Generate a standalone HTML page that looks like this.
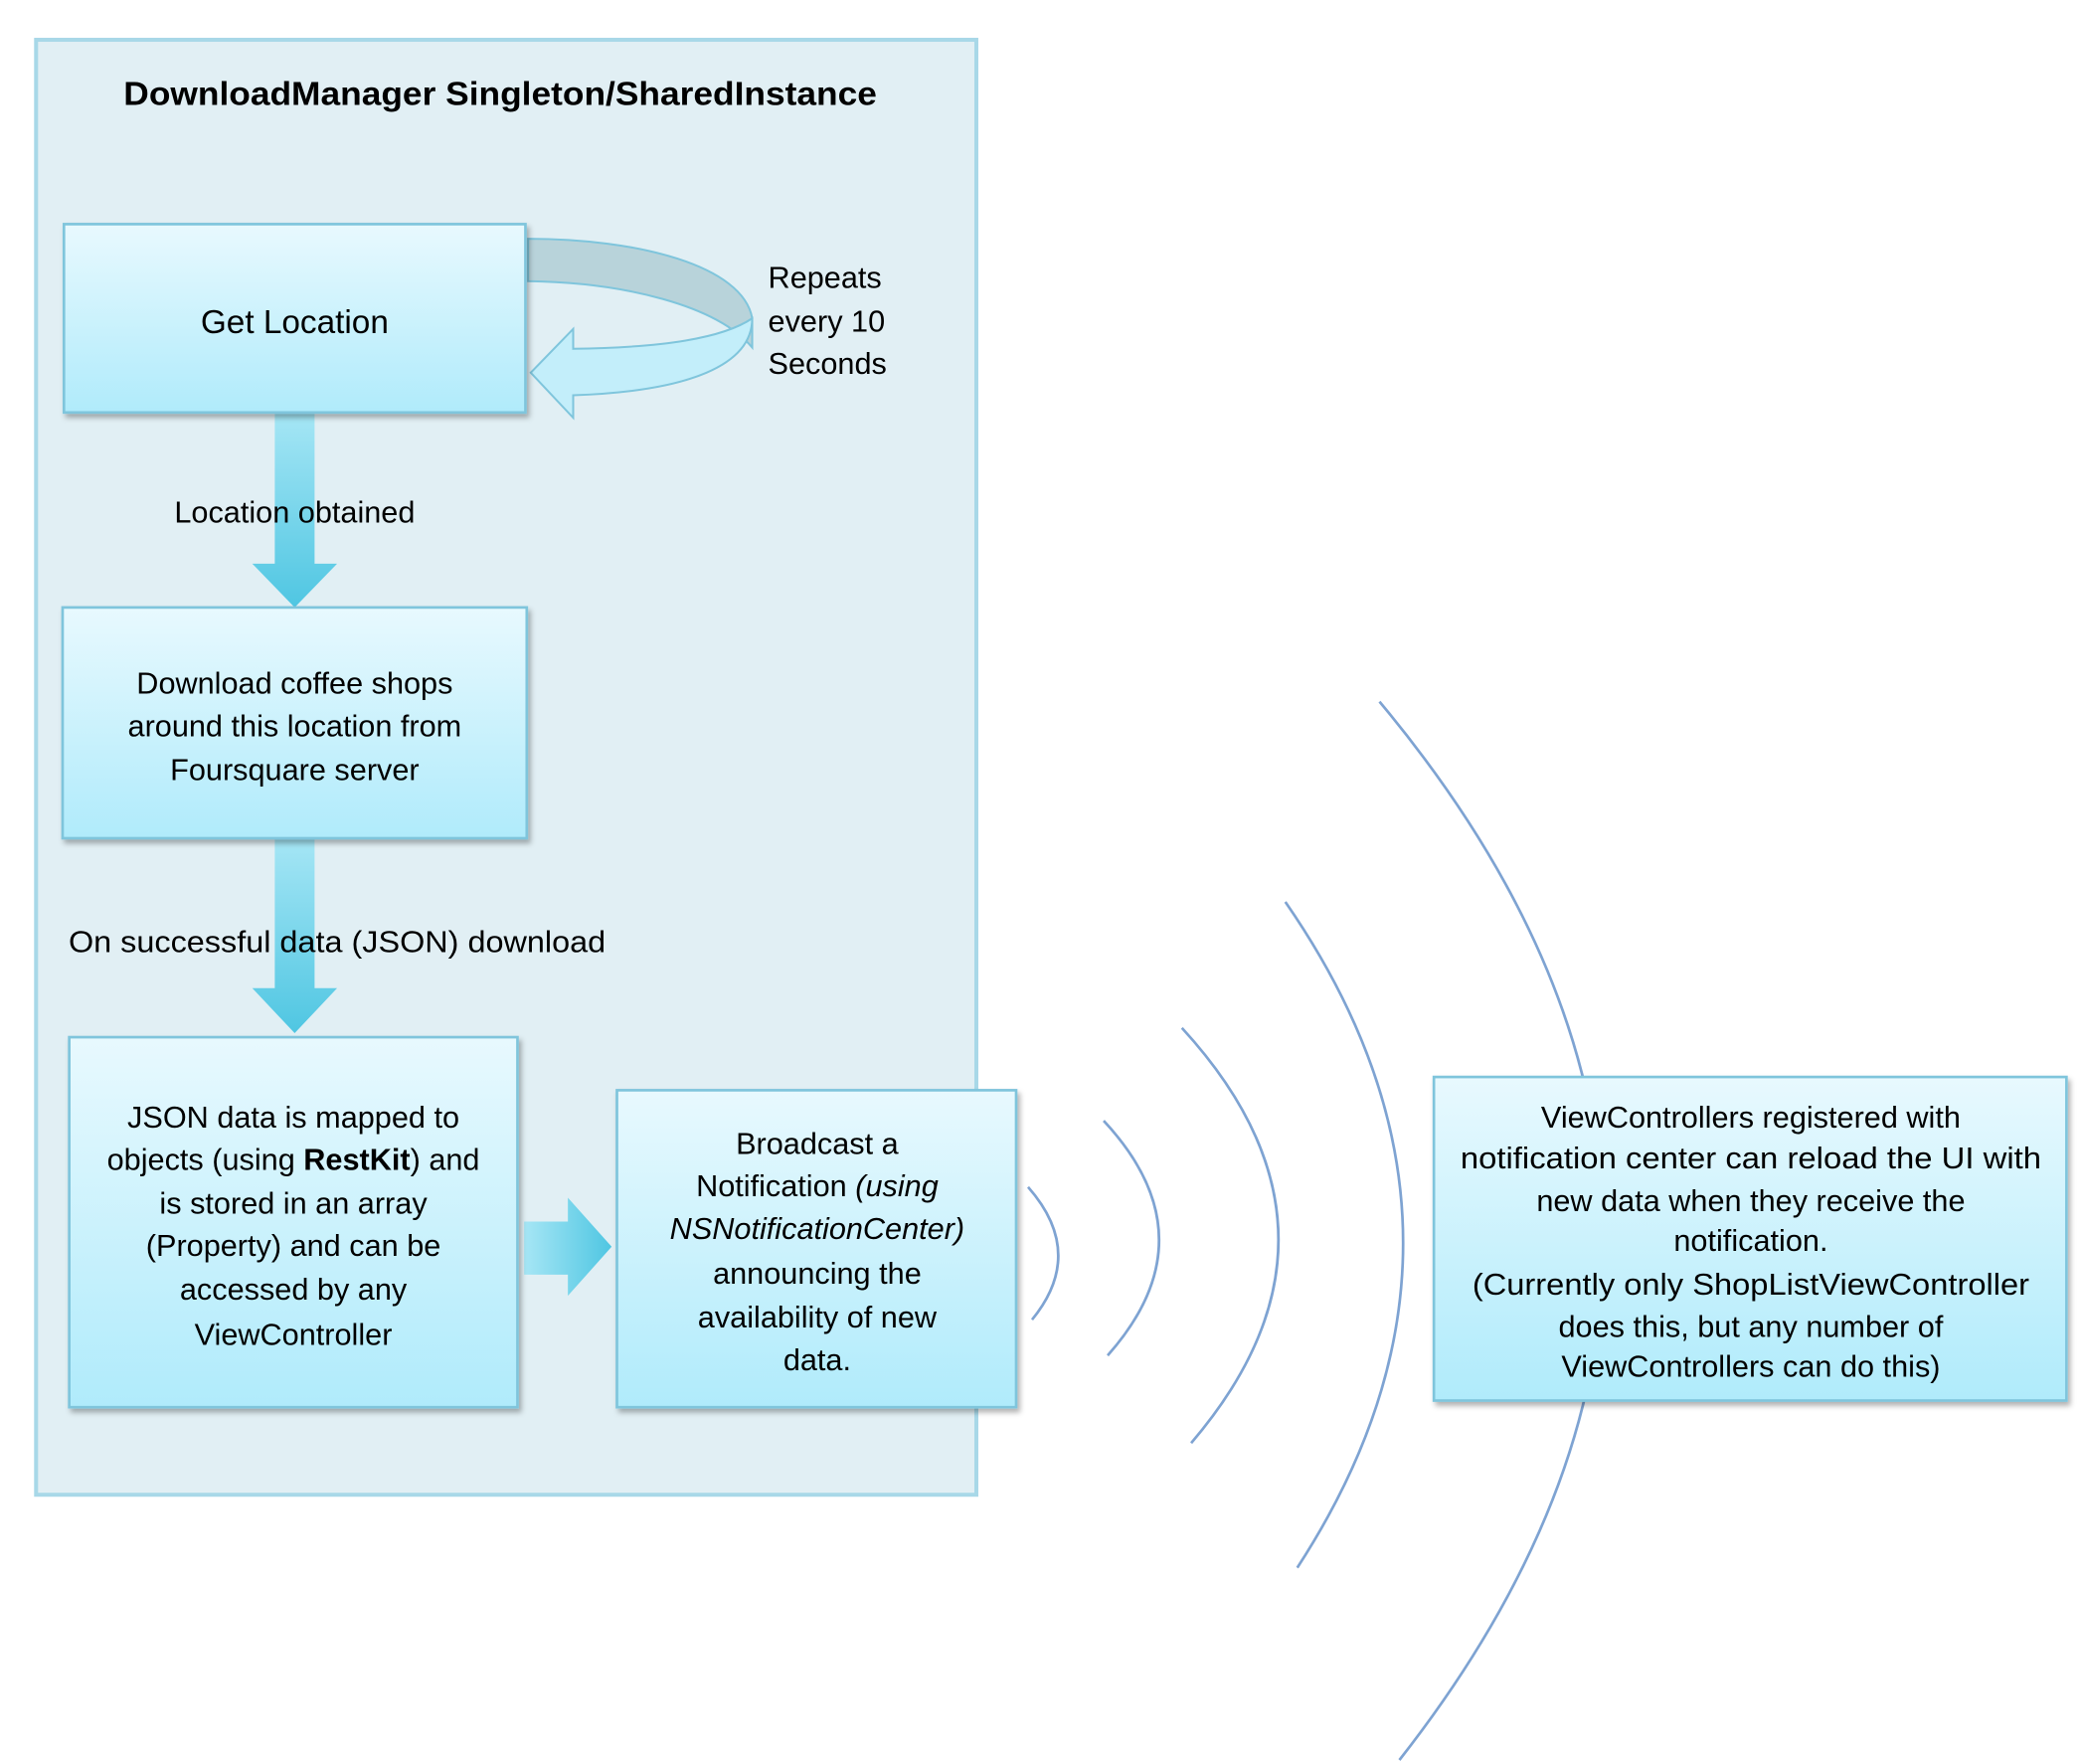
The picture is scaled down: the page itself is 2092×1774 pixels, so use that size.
<!DOCTYPE html>
<html><head><meta charset="utf-8"><style>
html,body{margin:0;padding:0;background:#fff;}
svg{display:block;}
text{font-family:"Liberation Sans",sans-serif;fill:#000;}
</style></head><body>
<svg width="2092" height="1774" viewBox="0 0 1568 1330" xmlns="http://www.w3.org/2000/svg">
<defs>
<linearGradient id="g" x1="0" y1="0" x2="0" y2="1"><stop offset="0" stop-color="#e8f9fe"/><stop offset="1" stop-color="#b0ebfb"/></linearGradient>
<linearGradient id="ga" x1="0" y1="0" x2="0" y2="1"><stop offset="0" stop-color="#a6e6f5"/><stop offset="1" stop-color="#4fc6e2"/></linearGradient>
<linearGradient id="gh" x1="0" y1="0" x2="1" y2="0"><stop offset="0" stop-color="#a6e6f5"/><stop offset="1" stop-color="#4fc6e2"/></linearGradient>
<filter id="sh" x="-10%" y="-10%" width="120%" height="120%"><feDropShadow dx="2" dy="3" stdDeviation="2" flood-color="#000" flood-opacity="0.3"/></filter>
</defs>
<rect x="27" y="30" width="709" height="1097" fill="#e1eff4" stroke="#a8d8e8" stroke-width="3"/>
<text x="377" y="79" font-size="25" font-weight="bold" text-anchor="middle" textLength="568" lengthAdjust="spacingAndGlyphs">DownloadManager Singleton/SharedInstance</text>

<!-- arcs -->
<g fill="none" stroke="#7ea3d2" stroke-width="2">
<path d="M775 895 Q819 945 778 995"/>
<path d="M832 845 Q914 933 835 1022"/>
<path d="M891 775 Q1033 930 898 1088"/>
<path d="M969 680 Q1142 930 978 1182"/>
<path d="M1040 529 Q1370 925 1055 1327"/>
</g>

<!-- down arrows -->
<path d="M207 311 H237 V425 H254 L222 458 L190 425 H207 Z" fill="url(#ga)"/>
<path d="M207 632 H237 V745 H254 L222 779 L190 745 H207 Z" fill="url(#ga)"/>
<path d="M395 921 H428 V903 L461 940 L428 977 V961 H395 Z" fill="url(#gh)"/>

<!-- loop arrow -->
<path d="M398 180 C480 180 560 200 567 240 L567 262 C540 230 470 213 398 212 Z" fill="#b8d3da" stroke="#7fc5dc" stroke-width="1.5"/>
<path d="M567 240 C567 275 520 295 432 298 L432 315 L400 281 L432 248 L432 263 C500 262 545 255 567 240 Z" fill="#c3eefa" stroke="#7fc5dc" stroke-width="1.5"/>

<!-- boxes -->
<g fill="url(#g)" stroke="#7fc5dc" stroke-width="2" filter="url(#sh)">
<rect x="48" y="169" width="348" height="142"/>
<rect x="47" y="458" width="350" height="174"/>
<rect x="52" y="782" width="338" height="279"/>
<rect x="465" y="822" width="301" height="239"/>
<rect x="1081" y="812" width="477" height="244"/>
</g>

<g font-size="23" text-anchor="middle">
<text x="222" y="251" font-size="25">Get Location</text>
<text x="579" y="217" text-anchor="start">Repeats</text>
<text x="579" y="250" text-anchor="start">every 10</text>
<text x="579" y="282" text-anchor="start">Seconds</text>
<text x="222" y="394">Location obtained</text>
<text x="222" y="523">Download coffee shops</text>
<text x="222" y="555">around this location from</text>
<text x="222" y="588">Foursquare server</text>
<text x="254" y="718" textLength="405" lengthAdjust="spacingAndGlyphs">On successful data (JSON) download</text>
<text x="221" y="850">JSON data is mapped to</text>
<text x="221" y="882">objects (using <tspan font-weight="bold">RestKit</tspan>) and</text>
<text x="221" y="915">is stored in an array</text>
<text x="221" y="947">(Property) and can be</text>
<text x="221" y="980">accessed by any</text>
<text x="221" y="1014">ViewController</text>
<text x="616" y="870">Broadcast a</text>
<text x="616" y="902">Notification <tspan font-style="italic">(using</tspan></text>
<text x="616" y="934" font-style="italic">NSNotificationCenter)</text>
<text x="616" y="968">announcing the</text>
<text x="616" y="1001">availability of new</text>
<text x="616" y="1033">data.</text>
<text x="1320" y="850">ViewControllers registered with</text>
<text x="1320" y="881" textLength="438" lengthAdjust="spacingAndGlyphs">notification center can reload the UI with</text>
<text x="1320" y="913">new data when they receive the</text>
<text x="1320" y="943">notification.</text>
<text x="1320" y="976" textLength="420" lengthAdjust="spacingAndGlyphs">(Currently only  ShopListViewController</text>
<text x="1320" y="1008">does this, but any number of</text>
<text x="1320" y="1038">ViewControllers can do this)</text>
</g>
</svg>
</body></html>
